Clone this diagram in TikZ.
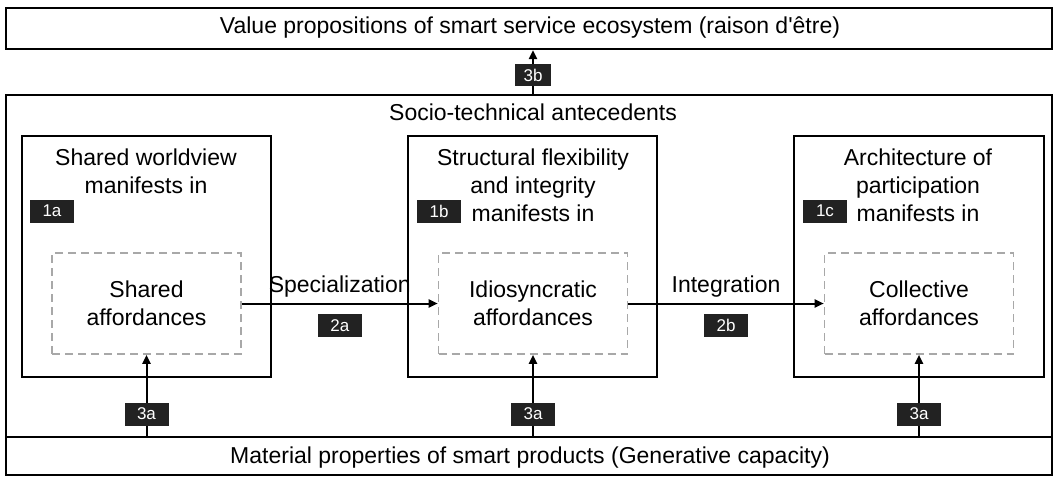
\documentclass[tikz,border=0pt]{standalone}
\usepackage{fontspec}
\setmainfont{Liberation Sans}
\usetikzlibrary{arrows.meta}
\definecolor{tagfill}{HTML}{222222}
\definecolor{dashgray}{HTML}{A8A8A8}

\begin{document}
\begin{tikzpicture}[x=1pt, y=-1pt,
        box/.style = {shape=rectangle, draw, line width=2.2pt, inner sep=0pt},
        affbox/.style = {shape=rectangle, draw=dashgray, line width=1.6pt,
        dash pattern=on 8pt off 5pt, minimum width=189pt, minimum height=101pt,
        align=center, font=\fontsize{23}{28}\selectfont},
        txt/.style = {align=center, inner sep=0pt, font=\fontsize{23}{28}\selectfont},
        tag/.style = {fill=tagfill, text=white, minimum width=44pt,
        minimum height=23pt, inner sep=0pt, font=\fontsize{17}{19}\selectfont},
        link/.style = {draw, line width=2pt, -{Triangle[length=9pt,width=8pt]}}]
    \useasboundingbox (0,0) rectangle (1057,477);
    % outer layers
    \node[box, minimum width=1046pt, minimum height=41pt] (value) at (529,28.5) {};
    \node[txt] (valuelbl) at (530,28) {Value propositions of smart service ecosystem (raison d\textquotesingle\^etre)};
    \node[box, minimum width=1046pt, minimum height=342pt] (socio) at (529,266) {};
    \node[txt] (sociolbl) at (533,112) {Socio-technical antecedents};
    \node[box, minimum width=1046pt, minimum height=38pt] (mat) at (529,456) {};
    \node[txt] (matlbl) at (530,458) {Material properties of smart products (Generative capacity)};
    % antecedent boxes
    \node[box, minimum width=249pt, minimum height=241pt] (worldview) at (146.5,256.5) {};
    \node[box, minimum width=249pt, minimum height=241pt] (structure) at (532.5,256.5) {};
    \node[box, minimum width=250pt, minimum height=241pt] (architecture) at (919,256.5) {};
    \node[txt] (worldviewlbl) at (146,171) {Shared worldview\\manifests in};
    \node[txt] (structurelbl) at (533,185) {Structural flexibility\\and integrity\\manifests in};
    \node[txt] (architecturelbl) at (918,185) {Architecture of\\participation\\manifests in};
    \node[tag] (t1a) at (52,211) {1a};
    \node[tag] (t1b) at (439,211) {1b};
    \node[tag] (t1c) at (825,211) {1c};
    % affordances
    \node[affbox] (affl) at (146.5,303.5) {Shared\\affordances};
    \node[affbox] (affm) at (533,303.5) {Idiosyncratic\\affordances};
    \node[affbox] (affr) at (919,303.5) {Collective\\affordances};
    % connectors
    \draw[link] (affl.east) -- (affm.west)
        node[txt, midway, above=5pt] {Specialization}
        node[tag, midway, below=9.5pt] {2a};
    \draw[link] (affm.east) -- (affr.west)
        node[txt, midway, above=5pt] {Integration}
        node[tag, midway, below=9.5pt] {2b};
    \foreach \a in {affl, affm, affr}
        \draw[link] (mat.north -| \a) -- (\a.south) node[tag, pos=0.27] {3a};
    \draw[link] (socio.north -| sociolbl) -- (value.south -| sociolbl)
        node[tag, pos=0.43, minimum width=36pt, minimum height=22pt] {3b};
\end{tikzpicture}
\end{document}
